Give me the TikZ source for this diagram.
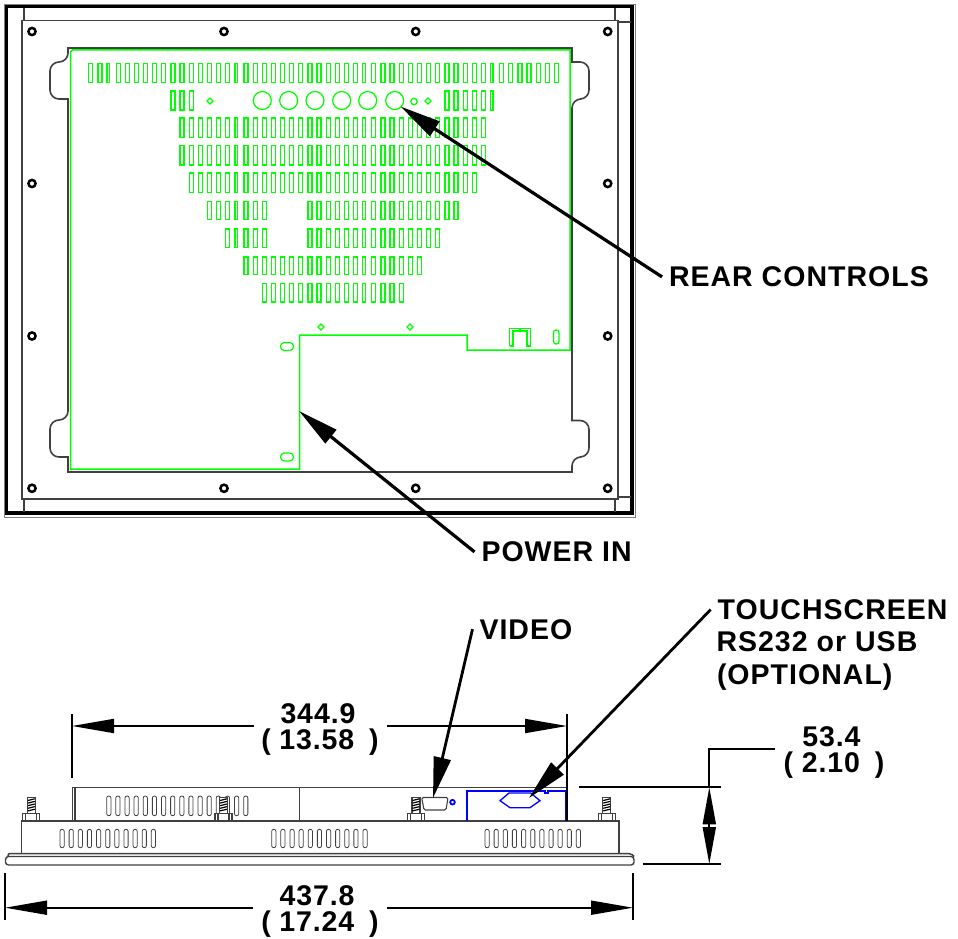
\documentclass[tikz,border=0pt]{standalone}
\usepackage{fontspec}
\setmainfont{Liberation Sans}
\newfontfamily\labfont{Liberation Sans Bold}[LetterSpace=3.6]
\newfontfamily\dimfont{Liberation Sans Bold}[LetterSpace=3.2]
\usetikzlibrary{arrows.meta}
\definecolor{gr}{HTML}{00FF00}
\definecolor{bl}{HTML}{0000FF}
\definecolor{dk}{HTML}{404040}
\tikzset{
  frame/.style={draw=black,line width=3.4pt,line join=miter},
  thin line/.style={draw=dk,line width=1.1pt},
  panel/.style={draw=dk,line width=1.6pt},
  greenline/.style={draw=gr,line width=1.25pt},
  greenbold/.style={draw=gr,line width=1.5pt},
  screw/.style={draw=black,line width=2.5pt,fill=white},
  sideslot/.style={draw=dk,line width=.8pt,rounded corners=2pt},
  blueline/.style={draw=bl,line width=1.3pt},
  callout/.style={draw=black,line width=3.2pt,-{Triangle[length=41pt,width=17pt]}},
  dimline/.style={draw=black,line width=1.8pt},
  dimarrow/.style={draw=black,line width=1.8pt,-{Triangle[length=42pt,width=14pt]}},
  calllabel/.style={font=\labfont\fontsize{28.5}{32}\selectfont,inner sep=0pt,outer sep=7pt,anchor=base west,text=black},
  dimlabel/.style={font=\dimfont\fontsize{28.5}{26}\selectfont,inner sep=0pt,anchor=base,text=black},
}
\newcommand{\slotrow}[4]{%
  \foreach \i in {#3,...,#4}{%
    \pgfmathsetmacro{\sw}{(mod(\i,14)==2)?2.5:4}%
    \pgfmathsetmacro{\sx}{88.8+9.13*\i}%
    \draw[greenline] (\sx,#1) rectangle ++(\sw,#2-#1);
  }}
\newcommand{\sideslots}[5]{%
  \foreach \i in {1,...,#3}{%
    \pgfmathsetmacro{\sx}{#4+(\i-1)*#5}%
    \draw[sideslot] (\sx,#1) rectangle ++(4.2,#2-#1);
  }}
\newcommand{\bolt}[1]{%
  \begin{scope}[shift={(#1,0)}]
    \draw[thin line,fill=white] (-4,797.5) rectangle (4,813.3);
    \foreach \k in {0,...,4}{\draw[draw=black,line width=1.2pt] (-3.5,800.5+2.6*\k) -- (3.5,798.8+2.6*\k);}
    \draw[thin line,fill=white] (-8.5,813.3) rectangle (8.5,821);
    \draw[thin line] (-5.5,813.3) -- (-5.5,821) (5.5,813.3) -- (5.5,821);
  \end{scope}}
\begin{document}
\begin{tikzpicture}[x=1pt,y=-1pt]
\useasboundingbox (0,0) rectangle (958,939);
% ---------- rear view
\draw[draw=gray,line width=.8pt] (4,4.5) rectangle (635,517);
\draw[frame] (6.5,6.5) rectangle (632,513);
\draw[thin line] (24,8) -- (24,20.5) (615,8) -- (615,20.5) (618,22) -- (631,22);
\draw[thin line] (24,499) -- (24,512) (615,499) -- (615,512) (618,497) -- (631,497);
\draw[thin line] (22,20.5) rectangle (618,499);
% panel outline with tabs
\draw[panel] (68,48) -- (572,48) -- (572,62)
  {[rounded corners=9pt] -- (589,62) -- (589,99) -- (572,99)}
  -- (572,420.5)
  {[rounded corners=9pt] -- (589,420.5) -- (589,457) -- (572,457)}
  -- (572,472) -- (68,472) -- (68,457)
  {[rounded corners=9pt] -- (50,457) -- (50,420) -- (68,420)}
  -- (68,99)
  {[rounded corners=9pt] -- (50,99) -- (50,62) -- (68,62)}
  -- cycle;
% green outline
\draw[greenbold] (70.5,52) -- (72.5,50) -- (570,50) -- (570,350) -- (467,350) -- (467,335) -- (299.5,335) -- (299.5,469) -- (70.5,469) -- cycle;
% slot rows
\slotrow{63.5}{82.8}{0}{51}
\slotrow{91}{110}{9}{11}
\slotrow{91}{110}{39}{44}
\slotrow{118}{137.5}{10}{43}
\slotrow{145.5}{165}{10}{43}
\slotrow{173}{192.5}{11}{42}
\slotrow{201.5}{219.5}{13}{19}
\slotrow{201.5}{219.5}{24}{40}
\slotrow{229}{247.5}{15}{19}
\slotrow{229}{247.5}{24}{38}
\slotrow{257}{274.3}{17}{36}
\slotrow{283.5}{302}{19}{34}
% round controls
\foreach \cx in {262.3,288.7,315,341.7,367.7,394.7}{\draw[greenline] (\cx,100.5) circle[radius=9];}
\draw[greenline,line width=1.3pt] (414,101.5) circle[radius=3.2];
\foreach \cx/\cy in {210/101,428/101,321/327,410/327}{\draw[greenline] (\cx-3,\cy) -- (\cx,\cy-3) -- (\cx+3,\cy) -- (\cx,\cy+3) -- cycle;}
% ovals and bracket
\foreach \cy in {346.5,457}{\draw[greenline,line width=1.2pt,rounded corners=3.8pt] (280.5,\cy-4) rectangle (293.5,\cy+4);}
\draw[greenline,rounded corners=2.5pt] (553.5,330) rectangle (559,344);
\draw[greenline] (509.5,346) -- (509.5,328.5) -- (530.5,328.5) -- (530.5,346) -- (527,346) -- (527,331) -- (520,331) -- (520,328.5)
   (520,331) -- (513,331) -- (513,346) -- (509.5,346);
% screws
\foreach \sx in {32,224,415.7,607.7}{\foreach \sy in {31.5,488.3}{\draw[screw] (\sx,\sy) circle[radius=3.6];}}
\foreach \sx in {32,607.7}{\foreach \sy in {183.5,336}{\draw[screw] (\sx,\sy) circle[radius=3.6];}}
% ---------- side view
\draw[thin line] (72.5,821) -- (72.5,787.7) -- (567,787.7);
\draw[thin line] (75,787.7) -- (75,821);
\draw[thin line] (299.3,787.7) -- (299.3,821);
\draw[thin line,line width=1.3pt] (21.7,853.3) -- (21.7,821) -- (619,821) -- (619,853.3);
\draw[thin line,line width=1.5pt,rounded corners=2pt] (8,856.5) -- (8,853.5) -- (631,853.5) -- (634,856.5);
\draw[thin line,line width=1.4pt,rounded corners=3pt] (5.5,856.5) rectangle (634,865);
\sideslots{829.3}{847.7}{11}{60}{9.13}
\sideslots{829.3}{847.7}{11}{271.7}{9.13}
\sideslots{829.3}{847.7}{11}{485}{9.13}
\sideslots{796}{815.7}{16}{106.7}{9.13}
\bolt{31.3}\bolt{223.5}\bolt{416}\bolt{606.7}
% video connector
\draw[thin line,rounded corners=1.5pt] (421.7,797.5) -- (448,797.5) -- (446,810) -- (424,810) -- cycle;
\draw[draw=bl,line width=1.8pt] (452.5,802.2) circle[radius=2.3];
% touchscreen box
\draw[blueline,line width=1.8pt] (466.7,821) -- (466.7,790.7) -- (545,790.7) -- (545,793) -- (548,793) -- (548,790.7) -- (566,790.7) -- (566,821);
\draw[blueline] (500,800.7) -- (509,793) -- (530.7,793) -- (540,800.7) -- (530,807.7) -- (510,807.7) -- cycle;
% ---------- callouts
\coordinate (tipRear) at (400.5,106.5);
\coordinate (tipPower) at (299,411);
\coordinate (tipVideo) at (433,798);
\coordinate (tipTouch) at (529,798);
\node[calllabel] (rear) at (662,286.7) {REAR CONTROLS};
\node[calllabel] (power) at (474.5,561.7) {POWER IN};
\node[calllabel] (video) at (472.5,639) {VIDEO};
\node[calllabel] (ts1) at (710.7,619.3) {TOUCHSCREEN};
\node[calllabel] (ts2) at (709.5,651.5) {RS232 or USB};
\node[calllabel] (ts3) at (710,684) {(OPTIONAL)};
\draw[callout] (rear.west) -- (tipRear);
\draw[callout] (power.west) -- (tipPower);
\draw[callout,line width=2.8pt] (video.west) -- (tipVideo);
\draw[callout,line width=2.8pt] (ts1.west) -- (tipTouch);
% ---------- dimensions
\node[dimlabel] (w1a) at (318,723) {344.9};
\node[dimlabel] (w1b) at (320,749.5) {(\hspace{.3em}13.58\hspace{.52em})};
\coordinate (w1L) at (72,726); \coordinate (w1R) at (567,726);
\coordinate (w1Lm) at (254,726); \coordinate (w1Rm) at (387,726);
\draw[dimline] (72,714) -- (72,778);
\draw[dimline] (567,714) -- (567,821);
\draw[dimarrow] (w1Lm) -- (w1L);
\draw[dimarrow] (w1Rm) -- (w1R);
\node[dimlabel] (w2a) at (317,905) {437.8};
\node[dimlabel] (w2b) at (320,931) {(\hspace{.3em}17.24\hspace{.52em})};
\coordinate (w2L) at (5,907.7); \coordinate (w2R) at (633,907.7);
\coordinate (w2Lm) at (253,907.7); \coordinate (w2Rm) at (387,907.7);
\draw[dimline] (5,873) -- (5,920);
\draw[dimline] (633,873) -- (633,920);
\draw[dimarrow] (w2Lm) -- (w2L);
\draw[dimarrow] (w2Rm) -- (w2R);
\node[dimlabel] (h1a) at (831.5,746) {53.4};
\node[dimlabel] (h1b) at (834,772.7) {(\hspace{.3em}2.10\hspace{.52em})};
\coordinate (hT) at (709.3,787.3); \coordinate (hB) at (709.3,864); \coordinate (hM) at (709.3,825.5);
\draw[dimline] (775,748.7) -- (709.3,748.7) -- (hT);
\draw[dimline] (579,787.3) -- (721,787.3);
\draw[dimline] (642.7,864) -- (721,864);
\draw[draw=black,line width=1.8pt,-{Triangle[length=37pt,width=13pt]}] (hM) -- (hT);
\draw[draw=black,line width=1.8pt,-{Triangle[length=37pt,width=13pt]}] (hM) -- (hB);
\end{tikzpicture}
\end{document}
